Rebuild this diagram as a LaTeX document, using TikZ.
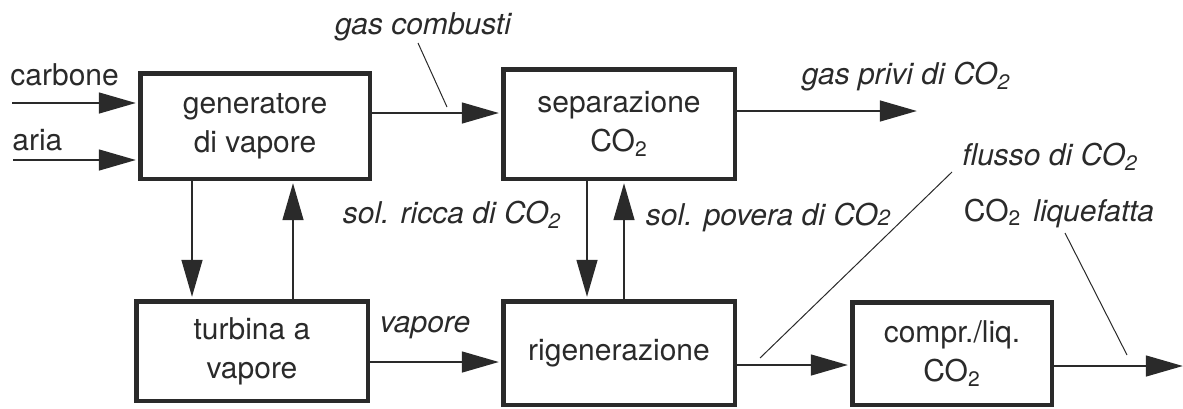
\documentclass[tikz,border=0pt]{standalone}
\usepackage{fontspec}
\setmainfont{TeX Gyre Heros}
\usetikzlibrary{arrows.meta}
\definecolor{ink}{HTML}{2A2A2A}
\begin{document}
\begin{tikzpicture}[x=0.5pt,y=-0.5pt,
  every node/.style={text=ink, inner sep=0pt, font=\fontsize{15}{19.5}\selectfont},
  box/.style={draw=ink, line width=2.25pt, align=center},
  flow/.style={draw=ink, line width=0.75pt, shorten >=1.1pt, -{Triangle[length=18.5pt,width=10.5pt]}},
  lead/.style={draw=ink, line width=0.5pt},
  lbl/.style={font=\fontsize{15}{19.5}\selectfont\itshape}]
\useasboundingbox (0,0) rectangle (1183,408);

% boxes
\node[box, minimum width=229.5pt/2, minimum height=105.5pt/2] (gen) at (255,126) {generatore\\di vapore};
\node[box, minimum width=231.5pt/2, minimum height=109.5pt/2] (sep) at (619,124) {separazione\\CO\textsubscript{2}};
\node[box, minimum width=231.5pt/2, minimum height=99.5pt/2] (turb) at (252,351) {turbina a\\vapore};
\node[box, minimum width=231.5pt/2, minimum height=103.5pt/2] (rig) at (619,353) {rigenerazione};
\node[box, minimum width=199.5pt/2, minimum height=102.5pt/2] (comp) at (952,353.5) {compr./liq.\\CO\textsubscript{2}};

% free ends
\coordinate (cin) at (12,103);
\coordinate (ain) at (13,160);
\coordinate (gout) at (919,111);
\coordinate (cout) at (1185,366);

% flows
\draw[flow] (cin) -- (gen.west |- cin);
\draw[flow] (ain) -- (gen.west |- ain);
\draw[flow] (gen.east |- 0,113) -- (sep.west |- 0,113);
\draw[flow] (sep.east |- gout) -- (gout);
\draw[flow] (gen.south -| 192,0) -- (turb.north -| 192,0);
\draw[flow] (turb.north -| 293,0) -- (gen.south -| 293,0);
\draw[flow] (turb.east |- 0,362) -- (rig.west |- 0,362);
\draw[flow] (sep.south -| 587,0) -- (rig.north -| 587,0);
\draw[flow] (rig.north -| 624,0) -- (sep.south -| 624,0);
\draw[flow] (rig.east |- 0,365) -- (comp.west |- 0,365);
\draw[flow] (comp.east |- cout) -- (cout);

% labels
\node[anchor=west] (lcarb) at (10,75) {carbone};
\node[anchor=west] (laria) at (12,140) {aria};
\node[lbl] (lgas) at (423,27) {gas combusti};
\node[lbl] (lpriv) at (906,77) {gas privi di CO\textsubscript{2}};
\node[lbl] (lflus) at (1050,157) {flusso di CO\textsubscript{2}};
\node (lliq) at (1059,213) {CO\textsubscript{2}\hspace{6pt}\textit{liquefatta}};
\node[lbl] (lricca) at (452,215) {sol. ricca di CO\textsubscript{2}};
\node[lbl] (lpov) at (768,217) {sol. povera di CO{\fontsize{11}{12}\selectfont 2}};
\node[lbl] (lvap) at (425,328) {vapore};

% leader lines
\coordinate (g1) at (418,43);  \coordinate (g2) at (447,107);
\coordinate (f1) at (952,172); \coordinate (f2) at (760,358);
\coordinate (q1) at (1065,233); \coordinate (q2) at (1127,355);
\draw[lead] (g1) -- (g2);
\draw[lead] (f1) -- (f2);
\draw[lead] (q1) -- (q2);
\end{tikzpicture}
\end{document}
